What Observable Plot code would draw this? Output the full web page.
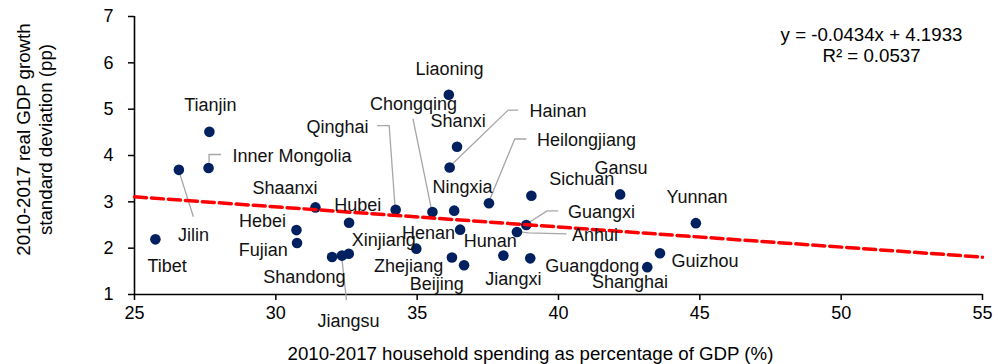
<!DOCTYPE html>
<html><head><meta charset="utf-8">
<script src="https://cdn.jsdelivr.net/npm/d3@7"></script>
<script src="https://cdn.jsdelivr.net/npm/@observablehq/plot@0.6"></script>
<style>
html,body{margin:0;padding:0;background:#fff;}
#chart svg{display:block;}
</style></head><body><div id="chart"></div>
<script>
// ---- data ----
const provinces = ["Tibet","Jilin","Tianjin","Inner Mongolia","Shaanxi","Hebei","Fujian","Shandong","Jiangsu","Xinjiang","Hubei","Qinghai","Zhejiang","Chongqing","Liaoning","Hainan","Hunan","Ningxia","Shanxi","Henan","Beijing","Heilongjiang","Jiangxi","Anhui","Guangxi","Guangdong","Sichuan","Gansu","Shanghai","Guizhou","Yunnan"];
const spending = [25.74,26.57,27.65,27.62,31.40,30.73,30.75,31.99,32.34,32.58,32.59,34.24,34.97,35.54,36.12,36.15,36.23,36.31,36.41,36.52,36.66,37.54,38.05,38.53,38.86,39.00,39.04,42.18,43.14,43.59,44.86];
const gdpStd   = [2.19,3.69,4.51,3.73,2.88,2.39,2.11,1.81,1.84,1.88,2.55,2.83,1.99,2.78,5.31,3.74,1.80,2.81,4.19,2.40,1.63,2.97,1.84,2.35,2.50,1.78,3.13,3.16,1.59,1.89,2.54];
const xTicks = [25,30,35,40,45,50,55];
const yTicks = [1,2,3,4,5,6,7];
const trendSlope = -0.0434;
const trendIntercept = 4.1933;
const trendR2 = 0.0537;
const trendRange = [25,55];
const xTitle = "2010-2017 household spending as percentage of GDP (%)";
const yTitle = "2010-2017 real GDP growth\nstandard deviation (pp)";
const equationText = "y = -0.0434x + 4.1933\nR² = 0.0537";

// ---- label layout (pixel offsets from each point) ----
const labelOffsets = {
  "Tibet":[11.7,27],"Jilin":[14.7,65],"Tianjin":[1,-26.8],"Inner Mongolia":[83.5,-11.6],
  "Shaanxi":[-30.5,-19.4],"Hebei":[-34,-9.3],"Fujian":[-33.7,7],"Shandong":[-27.7,20.4],
  "Jiangsu":[6.6,66],"Xinjiang":[35,-13.3],"Hubei":[8.8,-17.3],"Qinghai":[-58.1,-82],
  "Zhejiang":[-7.7,17.7],"Chongqing":[-19,-108],"Liaoning":[0.7,-26],"Hainan":[108.4,-56.3],
  "Hunan":[38.3,-16],"Ningxia":[8.2,-23.3],"Shanxi":[1.1,-25.3],"Henan":[-31.7,3.7],
  "Beijing":[-27.3,19.3],"Heilongjiang":[97.6,-62.7],"Jiangxi":[10,23.3],"Anhui":[78,3.7],
  "Guangxi":[75.3,-12.6],"Guangdong":[62,8.3],"Sichuan":[50.4,-16.3],"Gansu":[0.8,-26],
  "Shanghai":[-17.3,15],"Guizhou":[45,8],"Yunnan":[1.1,-26]
};
const leaderPaths = {
  "Inner Mongolia":[[13,-13],[1,-13],[1,-5]],
  "Jilin":[[15,47.4],[0,0]],
  "Jiangsu":[[5,45],[0,0]],
  "Chongqing":[[-19,-93],[0,0]],
  "Hainan":[[69,-57],[59,-57],[0,0]],
  "Heilongjiang":[[38,-63.7],[26.3,-63.7],[0,0]],
  "Qinghai":[[-18,-83.6],[-6,-83.6],[0,0]],
  "Guangxi":[[32.3,-13.6],[21.3,-13.6],[0,0]],
  "Anhui":[[50,2.5],[12,1.5],[0,0]]
};

const points = provinces.map((name,i)=>({name, x: spending[i], y: gdpStd[i]}));
const trend = trendRange.map(x => ({x, y: trendSlope*x + trendIntercept}));

const FONT = 18;
const TITLE_FONT = 18.7;

function leaders(index, scales) {
  const g = d3.create("svg:g");
  for (const p of points) {
    const off = leaderPaths[p.name];
    if (!off) continue;
    const cx = scales.x(p.x), cy = scales.y(p.y);
    const pts = off.map(([dx,dy]) => [cx+dx, cy+dy]);
    g.append("path").attr("d", d3.line()(pts))
      .attr("fill","none").attr("stroke","#a6a6a6").attr("stroke-width",1.3);
  }
  return g.node();
}

const labelMarks = points.map(p => {
  const o = labelOffsets[p.name] || [0,-20];
  return Plot.text([p], {x:"x", y:"y", text:"name", dx:o[0], dy:o[1], fontSize:FONT, fill:"#111", textAnchor:"middle", lineAnchor:"middle"});
});

const chart = Plot.plot({
  width: 998, height: 364,
  marginLeft: 134, marginRight: 16, marginTop: 16, marginBottom: 70,
  style: {fontFamily: "'Liberation Sans', Arial, sans-serif", fontSize: "18px", background: "#fff", color: "#000"},
  x: {domain: [25,55], label: null},
  y: {domain: [1,7], label: null},
  marks: [
    Plot.axisX(xTicks, {tickSize:6, tickPadding:6, fontSize:FONT, strokeWidth:1.5, label:null, color:"#000"}),
    Plot.axisY(yTicks, {tickSize:6, tickPadding:15, fontSize:FONT, strokeWidth:1.5, label:null, color:"#000"}),
    Plot.ruleY([yTicks[0]], {stroke:"#000", strokeWidth:1.6}),
    Plot.ruleX([xTicks[0]], {stroke:"#000", strokeWidth:1.6}),
    leaders,
    Plot.dot(points, {x:"x", y:"y", r:5.3, fill:"#002060", stroke:"none"}),
    Plot.line(trend, {x:"x", y:"y", stroke:"#ff0000", strokeWidth:3.5, strokeDasharray:"12,5"}),
    ...labelMarks,
    Plot.text([equationText], {text:d=>d, frameAnchor:"top-right", dx:-111, dy:28.5, textAnchor:"middle", lineAnchor:"middle", lineHeight:1.13, fontSize:TITLE_FONT, fill:"#000"}),
    Plot.text([xTitle], {text:d=>d, frameAnchor:"bottom", dx:-28, dy:60, textAnchor:"middle", lineAnchor:"middle", fontSize:TITLE_FONT, fill:"#000"}),
    Plot.text([yTitle], {text:d=>d, frameAnchor:"left", rotate:-90, dx:-101, dy:-16, textAnchor:"middle", lineAnchor:"middle", lineHeight:1.18, fontSize:TITLE_FONT, fill:"#000"})
  ]
});
document.getElementById("chart").appendChild(chart);
</script>
</body></html>
